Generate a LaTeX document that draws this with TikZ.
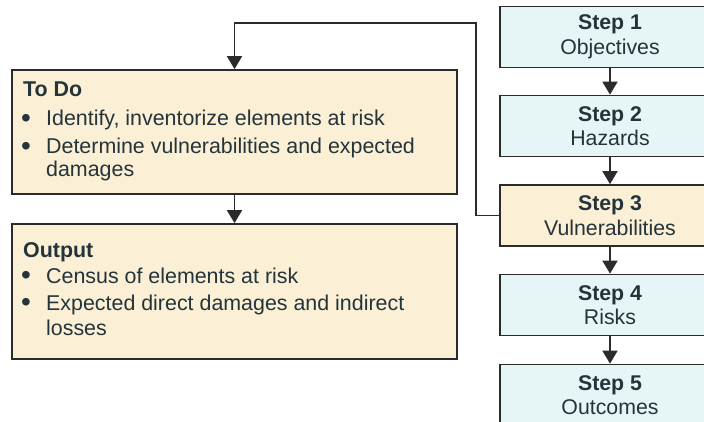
\documentclass[tikz,border=0pt]{standalone}
\usepackage{fontspec}
\setmainfont{Liberation Sans}
\usetikzlibrary{arrows.meta}
\definecolor{stepfill}{HTML}{E6F5F5}
\definecolor{notefill}{HTML}{FBEFD5}
\definecolor{ink}{HTML}{24343B}
\definecolor{edge}{HTML}{2B2B2B}
\newcommand{\dotmark}{{\fontsize{28}{24}\selectfont\raisebox{-1.5pt}{•}}}
\begin{document}
\begin{tikzpicture}[x=1pt,y=-1pt,
  box/.style={draw=edge, line width=1.7pt, inner sep=0pt},
  stepbox/.style={box, fill=stepfill, minimum width=220pt, minimum height=61pt,
    align=center, text=ink, font=\fontsize{21.3}{24.5}\selectfont},
  notebox/.style={box, fill=notefill, minimum width=445pt},
  txt/.style={text=ink, font=\fontsize{21.4}{24}\selectfont, inner sep=0pt, anchor=base west},
  flow/.style={draw=edge, line width=1.7pt, -{Triangle[width=15pt,length=13pt]}},
]
\useasboundingbox (0,0) rectangle (704,422);
\clip (0,0) rectangle (704,422);

% the five steps
\node[stepbox] (s1) at (610,37)    {\textbf{Step 1}\\Objectives};
\node[stepbox] (s2) at (610,126)   {\textbf{Step 2}\\Hazards};
\node[stepbox, fill=notefill] (s3) at (610,215.5) {\textbf{Step 3}\\Vulnerabilities};
\node[stepbox] (s4) at (610,305)   {\textbf{Step 4}\\Risks};
\node[stepbox] (s5) at (610,395)   {\textbf{Step 5}\\Outcomes};

% detail boxes for step 3
\node[notebox, minimum height=124pt] (todo) at (234.5,132) {};
\node[notebox, minimum height=135pt] (output) at (234.5,291.5) {};

\node[txt] (todoH) at (23,97) {\textbf{To Do}};
\node[txt] (todoB1) at (21,126) {\dotmark};
\node[txt] (todoT1) at (46,126) {Identify, inventorize elements at risk};
\node[txt] (todoB2) at (21,154) {\dotmark};
\node[txt] (todoT2) at (46,154) {Determine vulnerabilities and expected};
\node[txt] (todoT3) at (46,177) {damages};

\node[txt] (outH) at (23,257) {\textbf{Output}};
\node[txt] (outB1) at (21,283) {\dotmark};
\node[txt] (outT1) at (46,283) {Census of elements at risk};
\node[txt] (outB2) at (21,310) {\dotmark};
\node[txt] (outT2) at (46,310) {Expected direct damages and indirect};
\node[txt] (outT3) at (46,335) {losses};

% connectors
\draw[flow] (s1) -- (s2);
\draw[flow] (s2) -- (s3);
\draw[flow] (s3) -- (s4);
\draw[flow] (s4) -- (s5);
\draw[flow] (todo) -- (output);
\coordinate (fbk) at (476,23);
\draw[flow] (s3.west) -| (fbk) -| (todo.north);
\end{tikzpicture}
\end{document}
